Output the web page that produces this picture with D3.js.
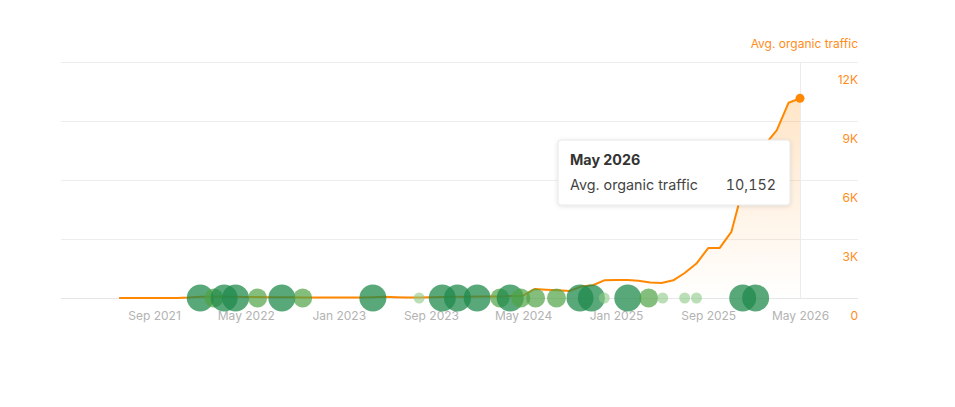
<!DOCTYPE html>
<html>
<head>
<meta charset="utf-8">
<script src="https://cdn.jsdelivr.net/npm/d3@7"></script>
<style>
  html, body { margin: 0; padding: 0; background: #fff; }
  body { width: 955px; height: 407px; overflow: hidden; font-family: Inter, "Noto Sans", sans-serif; }
  svg { display: block; }
  .tnum { font-variant-numeric: tabular-nums; font-feature-settings: "tnum" 1; }
</style>
</head>
<body>
<svg id="chart" width="955" height="407"></svg>
<script>
// ---- data ----
const months = [
  "2021-06","2021-07","2021-08","2021-09","2021-10","2021-11","2021-12",
  "2022-01","2022-02","2022-03","2022-04","2022-05","2022-06","2022-07","2022-08","2022-09","2022-10","2022-11","2022-12",
  "2023-01","2023-02","2023-03","2023-04","2023-05","2023-06","2023-07","2023-08","2023-09","2023-10","2023-11","2023-12",
  "2024-01","2024-02","2024-03","2024-04","2024-05","2024-06","2024-07","2024-08","2024-09","2024-10","2024-11","2024-12",
  "2025-01","2025-02","2025-03","2025-04","2025-05","2025-06","2025-07","2025-08","2025-09","2025-10","2025-11","2025-12",
  "2026-01","2026-02","2026-03","2026-04","2026-05"
];
const traffic = [
  0,0,0,0,0,0,20,
  60,60,70,60,50,50,40,40,40,30,30,30,
  30,30,30,40,60,40,30,30,40,50,60,60,
  70,80,80,100,120,460,420,390,360,580,650,900,
  920,920,880,790,760,900,1270,1750,2540,2540,3360,5540,
  6760,7880,8540,9930,10152
];
const eventDates = [
  "2022-01-01","2022-02-06","2022-03-05","2022-04-04","2022-06-01","2022-08-04","2022-09-28",
  "2023-04-01","2023-08-01","2023-10-01","2023-11-10",
  "2024-01-01","2024-03-01","2024-03-28","2024-04-25","2024-06-03","2024-07-28","2024-09-28","2024-10-28","2024-12-01",
  "2025-02-01","2025-03-28","2025-05-04","2025-07-01","2025-08-01","2025-12-01","2026-01-04"
];
const eventTypes = [
  "L","M","L","L","M","L","M",
  "L","S","L","L",
  "L","M","L","M","M","M","L","L","S",
  "L","M","S","S","S","L","L"
];
const xTickLabels = ["Sep 2021","May 2022","Jan 2023","Sep 2023","May 2024","Jan 2025","Sep 2025","May 2026"];
const yTickValues = [0, 3000, 6000, 9000, 12000];
const seriesName = "Avg. organic traffic";
const tooltipTitle = "May 2026";

// ---- scales ----
const parseM = d3.timeParse("%Y-%m");
const parseD = d3.timeParse("%Y-%m-%d");
const fmtTick = d3.timeFormat("%b %Y");
const series = months.map((m, i) => ({ date: parseM(m), value: traffic[i] }));
const events = eventDates.map((d, i) => ({ date: parseD(d), type: eventTypes[i] }));

const x = d3.scaleTime().domain([parseM("2021-09"), parseM("2026-05")]).range([154, 800]);
const y = d3.scaleLinear().domain([0, 12000]).range([298, 62]);
const gridLeft = 61, gridRight = 858;

const svg = d3.select("#chart");
const defs = svg.append("defs");
const grad = defs.append("linearGradient").attr("id", "areaGrad")
  .attr("gradientUnits", "userSpaceOnUse").attr("x1", 0).attr("x2", 0)
  .attr("y1", y(12000)).attr("y2", y(0));
grad.append("stop").attr("offset", "0%").attr("stop-color", "#ff8a00").attr("stop-opacity", 0.26);
grad.append("stop").attr("offset", "100%").attr("stop-color", "#ff8a00").attr("stop-opacity", 0.0);

const shadow = defs.append("filter").attr("id", "shadow").attr("x", "-10%").attr("y", "-20%").attr("width", "120%").attr("height", "150%");
shadow.append("feDropShadow").attr("dx", 0).attr("dy", 1).attr("stdDeviation", 2).attr("flood-color", "#000").attr("flood-opacity", 0.12);

// gridlines
svg.append("g").selectAll("line").data(yTickValues).join("line")
  .attr("x1", gridLeft).attr("x2", gridRight)
  .attr("y1", d => y(d) + 0.5).attr("y2", d => y(d) + 0.5)
  .attr("stroke", d => d === 0 ? "#e6e6e6" : "#ededed").attr("stroke-width", 1);

// hover vertical line
const lastPt = series[series.length - 1];
svg.append("line")
  .attr("x1", x(lastPt.date) + 0.5).attr("x2", x(lastPt.date) + 0.5)
  .attr("y1", y(12000)).attr("y2", y(0))
  .attr("stroke", "#ececec").attr("stroke-width", 1);

// y axis labels (right)
const yAxis = d3.axisRight(y).tickValues(yTickValues).tickSize(0)
  .tickFormat(d => d === 0 ? "0" : (d / 1000) + "K");
const gy = svg.append("g").attr("transform", `translate(${gridRight},0)`).call(yAxis);
gy.select(".domain").remove();
gy.selectAll("text")
  .attr("x", 0).attr("dy", 0).attr("y", 21.5)
  .attr("text-anchor", "end")
  .attr("fill", "#ff8c1a").attr("font-size", 12).attr("font-family", "Inter, sans-serif");

// series title
svg.append("text").attr("x", gridRight).attr("y", 47.5).attr("text-anchor", "end")
  .attr("fill", "#ff8c1a").attr("font-size", 12).attr("font-family", "Inter, sans-serif")
  .text(seriesName);

// x axis labels
const xTickDates = xTickLabels.map(l => d3.timeParse("%b %Y")(l));
const xAxis = d3.axisBottom(x).tickValues(xTickDates).tickSize(0).tickFormat(fmtTick);
const gx = svg.append("g").attr("transform", `translate(0,${y(0)})`).call(xAxis);
gx.select(".domain").remove();
gx.selectAll("text").attr("dy", 0).attr("y", 21.5)
  .attr("fill", "#b3b3b3").attr("font-size", 12).attr("font-family", "Inter, sans-serif");

// area + line
const area = d3.area().x(d => x(d.date)).y0(y(0)).y1(d => y(d.value));
svg.append("path").datum(series).attr("d", area).attr("fill", "url(#areaGrad)");
const line = d3.line().x(d => x(d.date)).y(d => y(d.value));
svg.append("path").datum(series).attr("d", line)
  .attr("fill", "none").attr("stroke", "#ff8800").attr("stroke-width", 2)
  .attr("stroke-linejoin", "round");

// event bubbles
const rBy = { L: 13.5, M: 9.5, S: 5.5 };
const cBy = { L: "#1f8a4c", M: "#4fa345", S: "#8cc985" };
const oBy = { L: 0.74, M: 0.7, S: 0.6 };
svg.append("g").selectAll("circle").data(events).join("circle")
  .attr("cx", d => x(d.date)).attr("cy", y(0))
  .attr("r", d => rBy[d.type])
  .attr("fill", d => cBy[d.type]).attr("fill-opacity", d => oBy[d.type]);

// end dot
svg.append("circle").attr("cx", x(lastPt.date)).attr("cy", y(lastPt.value)).attr("r", 4.5)
  .attr("fill", "#ff8800");

// tooltip
const tt = svg.append("g").attr("transform", "translate(558,140)");
tt.append("rect").attr("width", 232).attr("height", 65).attr("rx", 3)
  .attr("fill", "#fff").attr("stroke", "#e8e8e8").attr("filter", "url(#shadow)");
tt.append("text").attr("x", 12).attr("y", 25).attr("font-size", 14.3).attr("font-weight", 700)
  .attr("fill", "#333").attr("font-family", "Inter, sans-serif").text(tooltipTitle);
tt.append("text").attr("x", 12).attr("y", 50).attr("font-size", 14.3)
  .attr("fill", "#444").attr("font-family", "Inter, sans-serif").text(seriesName);
tt.append("text").attr("class", "tnum").attr("x", 218).attr("y", 50).attr("font-size", 14.3).attr("text-anchor", "end")
  .attr("fill", "#444").attr("font-family", "Inter, sans-serif").text(d3.format(",")(lastPt.value));
</script>
</body>
</html>
